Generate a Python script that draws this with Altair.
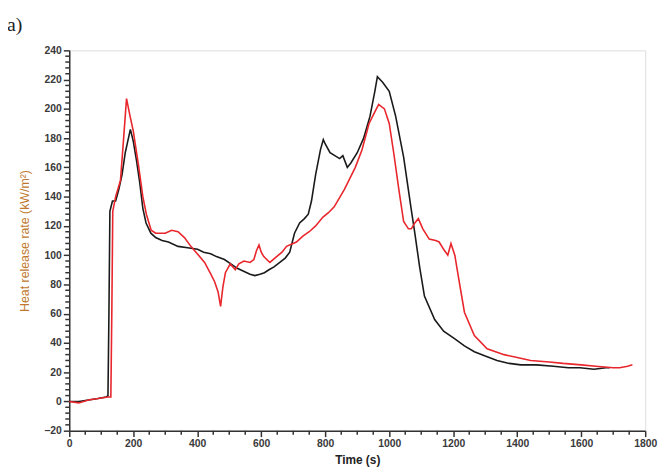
import altair as alt
import pandas as pd

# Black curve (time s, HRR kW/m2)
black_t = [0, 30, 60, 90, 115, 121, 124, 127, 135, 145, 155, 165, 175, 185, 191, 200, 210, 220, 230, 240,
           255, 270, 290, 310, 340, 370, 401, 420, 442, 460, 485, 505, 525, 545, 565, 580, 596, 610, 624, 640,
           658, 675, 689, 704, 720, 735, 747, 757, 770, 785, 794, 800, 815, 830, 845, 855, 869, 880, 900, 920,
           940, 955, 963, 980, 1000, 1020, 1045, 1069, 1080, 1095, 1110, 1142, 1170, 1204, 1235, 1266, 1300,
           1337, 1375, 1411, 1460, 1513, 1560, 1596, 1640, 1677, 1689]
black_v = [0, 0, 1, 2, 3, 4, 60, 130, 137, 137, 145, 155, 170, 180, 186, 178, 165, 150, 132, 122,
           115, 112, 110, 109, 106, 105, 104, 102, 101, 99, 97, 94, 91, 89, 87, 86, 87, 88, 90, 92,
           95, 98, 102, 115, 122, 125, 128, 137, 155, 172, 179, 176, 170, 168, 166, 168, 160, 163, 170, 180,
           195, 212, 222, 218, 212, 195, 167, 131, 115, 92, 72, 56, 48, 43, 38, 34, 31,
           28, 26, 25, 25, 24, 23, 23, 22, 23, 23]

# Red curve
red_t = [0, 30, 60, 90, 120, 130, 133, 136, 145, 160, 170, 179, 190, 200, 216, 230, 241, 256, 270, 300,
         320, 340, 360, 380, 400, 423, 440, 454, 465, 473, 480, 488, 503, 519, 530, 546, 565, 577, 585, 593,
         600, 608, 627, 648, 665, 679, 710, 730, 750, 770, 793, 810, 828, 860, 894, 915, 937, 955, 967, 985,
         1000, 1014, 1030, 1045, 1060, 1069, 1080, 1091, 1105, 1125, 1145, 1156, 1170, 1183, 1193, 1205, 1214,
         1235, 1266, 1306, 1359, 1400, 1442, 1500, 1544, 1600, 1646, 1700, 1720, 1745, 1760]
red_v = [0, -1, 1, 2, 3, 3, 60, 130, 140, 151, 180, 207, 195, 185, 162, 140, 128, 117, 115, 115,
         117, 116, 112, 106, 101, 95, 88, 82, 75, 65, 78, 88, 94, 90, 94, 96, 95, 97, 103, 107,
         102, 99, 95, 99, 102, 106, 109, 113, 116, 120, 126, 129, 133, 145, 160, 172, 190, 198, 203, 200,
         190, 170, 145, 123, 118, 118, 122, 125, 118, 111, 110, 109, 104, 100, 108, 100, 88,
         61, 45, 36, 32, 30, 28, 27, 26, 25, 24, 23, 23, 24, 25]

x_ticks = list(range(0, 1801, 200))
y_ticks = list(range(-20, 241, 20))
x_minor = [v for v in range(0, 1801, 50) if v % 200 != 0]
y_minor = [v for v in range(-20, 241, 4) if v % 20 != 0]

df = pd.concat([
    pd.DataFrame({"t": black_t, "v": black_v, "s": "A"}),
    pd.DataFrame({"t": red_t, "v": red_v, "s": "B"}),
])

W, H = 583, 385
xs = alt.Scale(domain=[0, 1800], nice=False)
ys = alt.Scale(domain=[-20, 240], nice=False)

common = dict(labelFont="Liberation Sans", labelFontWeight="bold", labelFontSize=10.5,
              labelColor="#3a3a3a", domainColor="#333", domainWidth=1.5, tickColor="#333",
              tickSize=6, tickWidth=1.5, grid=False, labelPadding=2, labelFlush=False,
              labelOverlap=False, format="d")

x_axis = alt.Axis(values=x_ticks, title="Time (s)", titleFont="Liberation Sans", titleFontSize=12,
                  titleFontWeight="bold", titleColor="#222", titlePadding=6, **common)
y_axis = alt.Axis(values=y_ticks, title="Heat release rate (kW/m²)", titleFont="Liberation Sans",
                  titleFontSize=12.5, titleFontWeight="normal", titleColor="#c0782e", titlePadding=12,
                  **common)

lines = alt.Chart(df).mark_line(strokeWidth=1.6).encode(
    x=alt.X("t:Q", scale=xs, axis=x_axis),
    y=alt.Y("v:Q", scale=ys, axis=y_axis),
    color=alt.Color("s:N", scale=alt.Scale(domain=["A", "B"], range=["#1a1a1a", "#e8262c"]), legend=None),
    detail="s:N",
)

xminor = alt.Chart(pd.DataFrame({"x": x_minor})).mark_rule(color="#333", strokeWidth=1.5).encode(
    x=alt.X("x:Q", scale=xs, axis=x_axis), y=alt.value(H), y2=alt.value(H + 4))
yminor = alt.Chart(pd.DataFrame({"y": y_minor})).mark_rule(color="#333", strokeWidth=1.5).encode(
    y=alt.Y("y:Q", scale=ys, axis=y_axis), x=alt.value(-4), x2=alt.value(0))

label = alt.Chart(pd.DataFrame({"txt": ["a)"]})).mark_text(
    font="Liberation Serif", fontSize=20, align="left", baseline="middle", color="#222"
).encode(text="txt:N", x=alt.value(-63), y=alt.value(-26))

chart = alt.layer(lines, xminor, yminor, label).properties(
    width=W, height=H,
    autosize=alt.AutoSizeParams(type="none"),
    padding={"left": 62, "top": 40, "right": 17, "bottom": 43},
).configure_view(stroke=None).configure_axis(labelOverlap=False).configure(background="white")

chart.save("out.html", embed_options={"renderer": "svg", "actions": False})
